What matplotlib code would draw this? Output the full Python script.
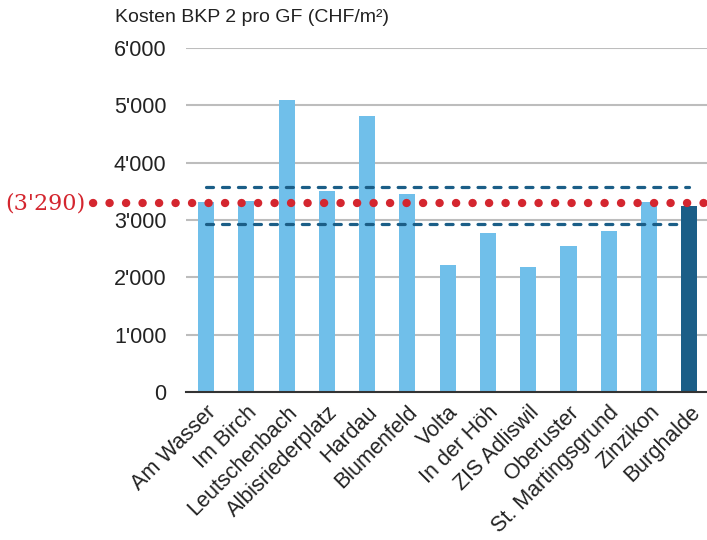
import matplotlib
matplotlib.use("Agg")
import matplotlib.pyplot as plt
import matplotlib.transforms as mtransforms

# Construction costs BKP 2 per gross floor area, CHF/m2
projects = ["Am Wasser", "Im Birch", "Leutschenbach", "Albisriederplatz", "Hardau",
            "Blumenfeld", "Volta", "In der Höh", "ZIS Adliswil", "Oberuster",
            "St. Martingsgrund", "Zinzikon", "Burghalde"]
costs = [3310, 3330, 5090, 3500, 4810, 3450, 2210, 2770, 2180, 2550, 2810, 3310, 3240]
highlight = "Burghalde"

mean_cost = 3290
band_upper = 3580
band_lower = 2930

yticks = [0, 1000, 2000, 3000, 4000, 5000, 6000]
ytick_labels = ["0", "1'000", "2'000", "3'000", "4'000", "5'000", "6'000"]

light_blue = "#70bfea"
dark_blue = "#1b5e87"
red = "#d4262f"

plt.rcParams["font.family"] = ["Liberation Sans", "DejaVu Sans"]

W, H = 707, 540
fig = plt.figure(figsize=(W / 100, H / 100), dpi=100)
ax = fig.add_axes([186 / W, 1 - 392 / H, (707 - 186) / W, (392 - 48) / H])

colors = [dark_blue if p == highlight else light_blue for p in projects]
x = list(range(len(projects)))
ax.bar(x, costs, width=0.4, color=colors, zorder=2)

ax.set_xlim(-0.5, 12.44)
ax.set_ylim(0, 6000)
ax.set_yticks(yticks)
ax.set_yticklabels(ytick_labels, fontsize=15.5, color="#222222")
ax.set_xticks(x)
ax.set_xticklabels(projects, rotation=45, ha="right", va="top",
                   rotation_mode="anchor", fontsize=15.5, color="#222222")
ax.tick_params(axis="both", length=0)
ax.tick_params(axis="y", pad=14)
ax.tick_params(axis="x", pad=7)

ax.grid(axis="y", color="#bdbdbd", linewidth=1.5, zorder=1)
for s in ["top", "right", "left"]:
    ax.spines[s].set_visible(False)
ax.spines["bottom"].set_color("#333333")
ax.spines["bottom"].set_linewidth(1.5)
ax.spines["bottom"].set_zorder(3)

# Band around the average
for yv in (band_upper, band_lower):
    ax.plot([x[0], x[-1]], [yv, yv], color=dark_blue, linewidth=2.3,
            dashes=(2.2, 2.8), dash_capstyle="round", zorder=4)

# Average as a dotted line reaching across the tick labels
trans = mtransforms.blended_transform_factory(fig.transFigure, ax.transData)
ax.plot([93 / W, 1.0], [mean_cost, mean_cost], transform=trans, color=red,
        linewidth=6, dashes=(0.02, 1.96), dash_capstyle="round", clip_on=False, zorder=5)
ax.text(5 / W, mean_cost, "(3'290)", transform=trans, color=red, fontsize=16,
        family=["DejaVu Serif"], ha="left", va="center")

fig.text(115 / W, 1 - 18 / H, "Kosten BKP 2 pro GF (CHF/m²)", fontsize=14,
         color="#222222", ha="left", va="center")

fig.savefig("out.png", dpi=100)
